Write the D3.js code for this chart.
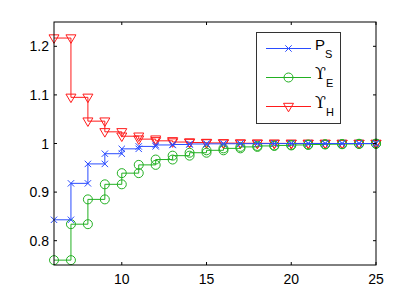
<!DOCTYPE html>
<html>
<head>
  <meta charset="utf-8">
  <script src="https://d3js.org/d3.v7.min.js"></script>
  <style>
    html, body { margin: 0; padding: 0; background: #fff; }
    .tick-label { font: 14px "Liberation Sans", Arial, sans-serif; fill: #000; }
    .leg-text { font: 15px "Liberation Sans", Arial, sans-serif; fill: #000; }
  </style>
</head>
<body>
  <svg id="chart" width="414" height="299"></svg>
  <script>
    // data
    var xs = [6, 7, 8, 9, 10, 11, 12, 13, 14, 15, 16, 17, 18, 19, 20, 21, 22, 23, 24, 25];
    var ps = [0.843, 0.918, 0.958, 0.979, 0.989, 0.994, 0.997, 0.998, 0.999, 0.9993, 0.9995, 0.9997, 0.9998, 0.9999, 0.9999, 1, 1, 1, 1, 1];
    var upsE = [0.760, 0.834, 0.885, 0.916, 0.939, 0.956, 0.967, 0.975, 0.981, 0.986, 0.990, 0.993, 0.995, 0.996, 0.997, 0.998, 0.9985, 0.999, 0.9995, 0.9997];
    var upsH = [1.217, 1.095, 1.046, 1.024, 1.015, 1.009, 1.0055, 1.003, 1.002, 1.0012, 1.0008, 1.0005, 1.0003, 1.0002, 1.0001, 1.0001, 1, 1, 1, 1];
    var xTicks = [10, 15, 20, 25];
    var yTicks = [0.8, 0.9, 1, 1.1, 1.2];

    var series = [
      { name: "P", sub: "S", values: ps, color: "#2a4cff", marker: "x" },
      { name: "\u03D2", sub: "E", values: upsE, color: "#22b022", marker: "o" },
      { name: "\u03D2", sub: "H", values: upsH, color: "#ff1a1a", marker: "v" }
    ];

    var pLeft = 54, pRight = 376, pTop = 22, pBottom = 265;
    var x = d3.scaleLinear().domain([6, 25]).range([pLeft, pRight]);
    var y = d3.scaleLinear().domain([0.75, 1.25]).range([pBottom, pTop]);

    var svg = d3.select("#chart");

    // stairs vertices like matlab: (x_i, y_i), (x_i+1, y_i), ...
    function stairs(vals) {
      var pts = [];
      for (var i = 0; i < xs.length; i++) {
        if (i > 0) pts.push([xs[i], vals[i - 1]]);
        pts.push([xs[i], vals[i]]);
      }
      return pts;
    }

    function markerPath(type) {
      if (type == "x") return "M-3.2,-3.2L3.2,3.2M-3.2,3.2L3.2,-3.2";
      if (type == "v") return "M-5,-3.2L5,-3.2L0,5.3Z";
      return d3.symbol().type(d3.symbolCircle).size(Math.PI * 4.5 * 4.5)();
    }

    var line = d3.line().x(d => x(d[0])).y(d => y(d[1]));

    var plot = svg.append("g");
    // draw red first, blue on top
    series.slice().reverse().forEach(s => {
      var pts = stairs(s.values);
      plot.append("path")
        .attr("d", line(pts))
        .attr("fill", "none")
        .attr("stroke", s.color)
        .attr("stroke-width", 1);
      plot.selectAll(null)
        .data(pts)
        .join("path")
        .attr("transform", d => "translate(" + x(d[0]) + "," + y(d[1]) + ")")
        .attr("d", markerPath(s.marker))
        .attr("fill", "none")
        .attr("stroke", s.color)
        .attr("stroke-width", 1);
    });

    // axes box with inward ticks
    var axes = svg.append("g");
    axes.append("rect")
      .attr("x", pLeft).attr("y", pTop)
      .attr("width", pRight - pLeft).attr("height", pBottom - pTop)
      .attr("fill", "none").attr("stroke", "#000").attr("stroke-width", 1);

    xTicks.forEach(t => {
      axes.append("line").attr("x1", x(t)).attr("x2", x(t)).attr("y1", pBottom).attr("y2", pBottom - 3).attr("stroke", "#000");
      axes.append("line").attr("x1", x(t)).attr("x2", x(t)).attr("y1", pTop).attr("y2", pTop + 3).attr("stroke", "#000");
      axes.append("text").attr("class", "tick-label")
        .attr("x", x(t)).attr("y", pBottom + 19)
        .attr("text-anchor", "middle").text(t);
    });
    yTicks.forEach(t => {
      axes.append("line").attr("x1", pLeft).attr("x2", pLeft + 3).attr("y1", y(t)).attr("y2", y(t)).attr("stroke", "#000");
      axes.append("line").attr("x1", pRight).attr("x2", pRight - 3).attr("y1", y(t)).attr("y2", y(t)).attr("stroke", "#000");
      axes.append("text").attr("class", "tick-label")
        .attr("x", pLeft - 5).attr("y", y(t) + 5)
        .attr("text-anchor", "end").text(d3.format("~g")(t));
    });

    // legend
    var leg = svg.append("g");
    leg.append("rect")
      .attr("x", 256.5).attr("y", 32.5).attr("width", 84).attr("height", 91)
      .attr("fill", "#fff").attr("stroke", "#333").attr("stroke-width", 1);
    series.forEach((s, i) => {
      var ly = 48.5 + i * 29;
      leg.append("line").attr("x1", 266).attr("x2", 311).attr("y1", ly).attr("y2", ly)
        .attr("stroke", s.color);
      leg.append("path").attr("transform", "translate(288.5," + ly + ")")
        .attr("d", markerPath(s.marker)).attr("fill", "none").attr("stroke", s.color);
      var t = leg.append("text").attr("class", "leg-text").attr("x", 315).attr("y", ly + 1);
      t.append("tspan").text(s.name)
        .style("font-family", s.name == "P" ? null : "'DejaVu Serif', serif")
        .style("font-size", s.name == "P" ? null : "16px");
      t.append("tspan").attr("dy", 8).style("font-size", "11px").text(s.sub);
    });
  </script>
</body>
</html>
